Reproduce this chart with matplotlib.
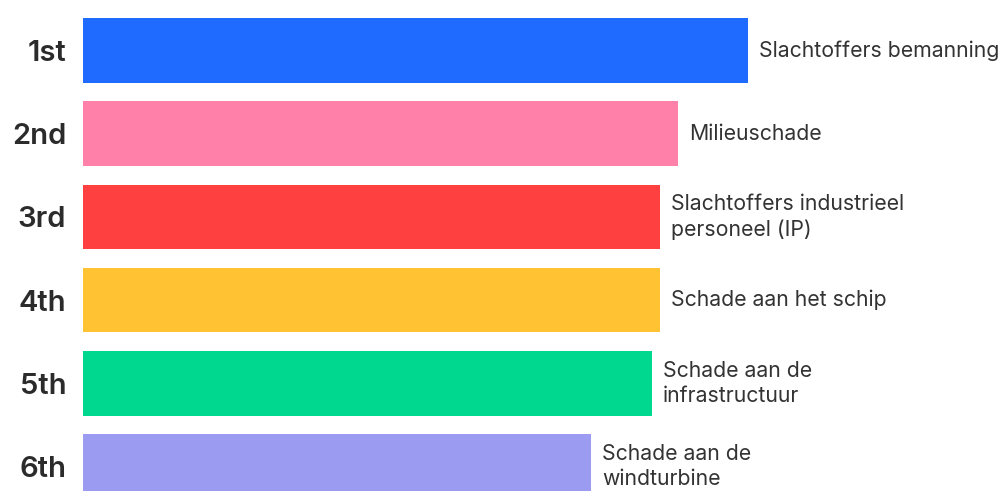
import matplotlib
matplotlib.use('Agg')
from matplotlib import pyplot as plt

ranks = ['1st', '2nd', '3rd', '4th', '5th', '6th']
labels = ['Slachtoffers bemanning',
          'Milieuschade',
          'Slachtoffers industrieel\npersoneel (IP)',
          'Schade aan het schip',
          'Schade aan de\ninfrastructuur',
          'Schade aan de\nwindturbine']
values = [665, 595, 577, 577, 569, 508]
colors = ['#1F6BFF', '#FF80A8', '#FF4040', '#FFC233', '#00D88F', '#9A9BF1']

fig = plt.figure(figsize=(10.03, 4.91), dpi=100)
ax = fig.add_axes([83/1003, 0, 1 - 83/1003, 1])

pos = list(range(len(ranks)))
ax.barh(pos, values, height=0.775, color=colors)

# labels to the right of each bar
for y, v, lab in zip(pos, values, labels):
    ax.text(v + 11, y, lab, va='center', ha='left', fontsize=15.3,
            family='Inter', color='#333333', linespacing=1.32)

ax.set_xlim(0, 920)
ax.set_ylim(5.294, -0.607)
ax.set_yticks(pos)
ax.set_yticklabels(ranks, fontsize=21, fontweight='semibold', family='Inter', color='#2b2b2b')
ax.tick_params(axis='y', length=0, pad=12)
ax.set_xticks([])
for s in ax.spines.values():
    s.set_visible(False)

fig.savefig('out.png', dpi=100)
